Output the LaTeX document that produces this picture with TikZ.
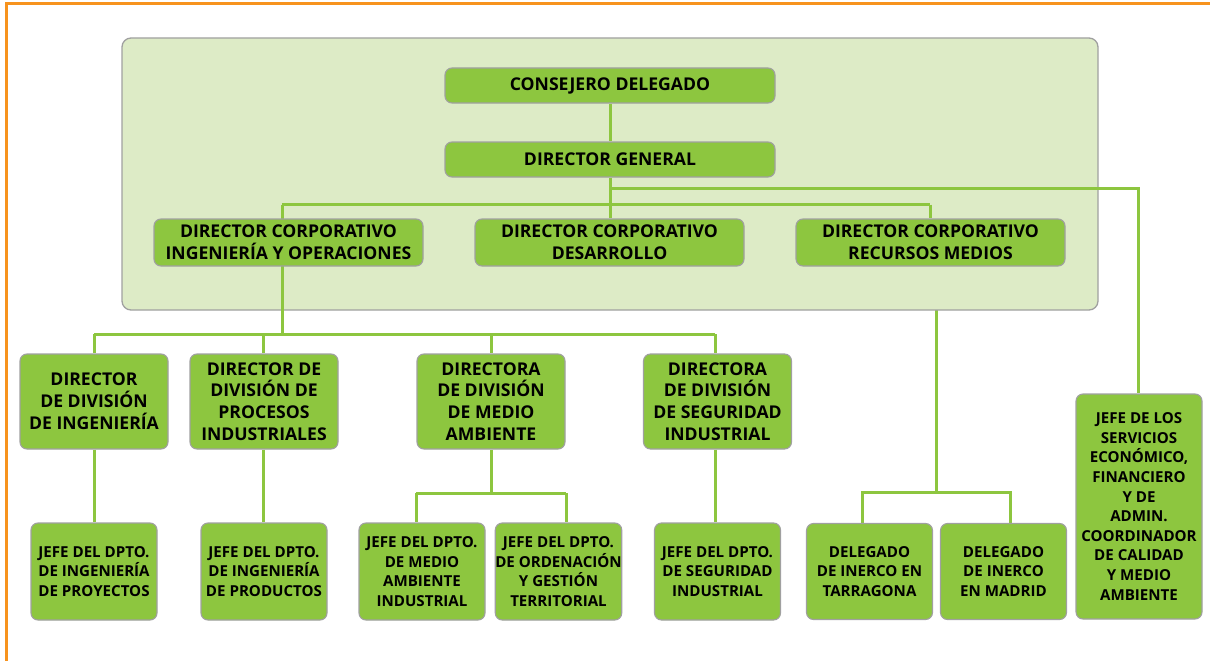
\documentclass[tikz,border=0pt]{standalone}
\usepackage{fontspec}
\setmainfont{Open Sans}
\usetikzlibrary{calc}
\definecolor{boxgreen}{HTML}{8DC63F}
\definecolor{linegreen}{HTML}{8DC63F}
\definecolor{grpfill}{HTML}{DDEBC6}
\definecolor{edgegray}{HTML}{A0A0A0}
\definecolor{frameorange}{HTML}{F7931E}
\pgfdeclarelayer{back}
\pgfdeclarelayer{mid}
\pgfsetlayers{back,mid,main}
\tikzset{
  box/.style={draw=edgegray, line width=1.1pt, fill=boxgreen, rounded corners=7pt,
    align=center, inner sep=0pt, font=\bfseries\fontsize{17.6}{21.8}\selectfont},
  small/.style={font=\bfseries\fontsize{15.1}{19.6}\selectfont},
  conn/.style={draw=linegreen, line width=3pt},
  grpbox/.style={draw=edgegray, line width=1.3pt, fill=grpfill, rounded corners=9pt},
  frame/.style={draw=frameorange, line width=3pt}
}
\begin{document}
\begin{tikzpicture}[x=1pt,y=-1pt]
\useasboundingbox (0,0) rectangle (1210,661);
% top group
\node[box, minimum width=330pt, minimum height=35pt] (cd) at (610,85.5) {CONSEJERO DELEGADO};
\node[box, minimum width=330pt, minimum height=35pt] (dg) at (610,159.5) {DIRECTOR GENERAL};
\node[box, minimum width=269pt, minimum height=47pt] (c1) at (288.5,242.5) {DIRECTOR CORPORATIVO\\INGENIERÍA Y OPERACIONES};
\node[box, minimum width=269pt, minimum height=47pt] (c2) at (609.5,242.5) {DIRECTOR CORPORATIVO\\DESARROLLO};
\node[box, minimum width=269pt, minimum height=47pt] (c3) at (930.5,242.5) {DIRECTOR CORPORATIVO\\RECURSOS MEDIOS};
% divisions
\node[box, minimum width=148pt, minimum height=95pt] (d1) at (94,401.5) {DIRECTOR\\DE DIVISIÓN\\DE INGENIERÍA};
\node[box, minimum width=148pt, minimum height=95pt] (d2) at (264,401.5) {DIRECTOR DE\\DIVISIÓN DE\\PROCESOS\\INDUSTRIALES};
\node[box, minimum width=148pt, minimum height=95pt] (d3) at (491,401.5) {DIRECTORA\\DE DIVISIÓN\\DE MEDIO\\AMBIENTE};
\node[box, minimum width=148pt, minimum height=95pt] (d4) at (717.5,401.5) {DIRECTORA\\DE DIVISIÓN\\DE SEGURIDAD\\INDUSTRIAL};
% departments
\node[box, small, minimum width=126pt, minimum height=97pt] (j1) at (94,571.5) {JEFE DEL DPTO.\\DE INGENIERÍA\\DE PROYECTOS};
\node[box, small, minimum width=126pt, minimum height=97pt] (j2) at (264,571.5) {JEFE DEL DPTO.\\DE INGENIERÍA\\DE PRODUCTOS};
\node[box, small, minimum width=126pt, minimum height=97pt] (j3a) at (422,571.5) {JEFE DEL DPTO.\\DE MEDIO\\AMBIENTE\\INDUSTRIAL};
\node[box, small, minimum width=126pt, minimum height=97pt] (j3b) at (558.5,571.5) {JEFE DEL DPTO.\\DE ORDENACIÓN\\Y GESTIÓN\\TERRITORIAL};
\node[box, small, minimum width=126pt, minimum height=97pt] (j4) at (717.5,571.5) {JEFE DEL DPTO.\\DE SEGURIDAD\\INDUSTRIAL};
\node[box, small, minimum width=126pt, minimum height=96pt] (tg) at (869.5,571.5) {DELEGADO\\DE INERCO EN\\TARRAGONA};
\node[box, small, minimum width=126pt, minimum height=96pt] (md) at (1003.5,571.5) {DELEGADO\\DE INERCO\\EN MADRID};
\node[box, small, minimum width=126pt, minimum height=225pt] (js) at (1139,506.5) {JEFE DE LOS\\SERVICIOS\\ECONÓMICO,\\FINANCIERO\\Y DE\\ADMIN.\\COORDINADOR\\DE CALIDAD\\Y MEDIO\\AMBIENTE};
% background, group and its outgoing line
\begin{pgfonlayer}{back}
\fill[white] (0,0) rectangle (1210,661);
\coordinate (fc) at (6,4);
\draw[frame] (1210,4) -- (fc) -- (6,661);
\draw[conn] ($(c3.south)+(5.5,0)$) |- (862,492.5) -- (tg.north -| 862,0);
\draw[conn] (936,492.5) -| (md.north -| 1010,0);
\node[grpbox, minimum width=976pt, minimum height=272pt] (grp) at (610,174) {};
\end{pgfonlayer}
% connectors
\begin{pgfonlayer}{mid}
\draw[conn] (cd) -- (dg);
\draw[conn] (dg.south) -- (610,204.5);
\draw[conn] (610,188) -| (js.north -| 1138,0);
\draw[conn] (282,204.5) -- (930,204.5);
\draw[conn] (282,204.5) -- (282,334);
\draw[conn] (c2.north -| 610,0) -- (610,204.5);
\draw[conn] (930,204.5) -- (c3.north -| 930,0);
\draw[conn] (94,334) -- (715,334);
\draw[conn] (94,334) -- (d1.north);
\draw[conn] (263.5,334) -- (d2.north -| 263.5,0);
\draw[conn] (491,334) -- (d3.north);
\draw[conn] (715,334) -- (d4.north -| 715,0);
\draw[conn] (d1) -- (j1);
\draw[conn] (d2.south -| 263.5,0) -- (j2.north -| 263.5,0);
\draw[conn] (d3.south) -- (491,493);
\draw[conn] (416,493) -- (566,493);
\draw[conn] (416,493) -- (j3a.north -| 416,0);
\draw[conn] (566,493) -- (j3b.north -| 566,0);
\draw[conn] (d4.south -| 715,0) -- (j4.north -| 715,0);
\end{pgfonlayer}
\end{tikzpicture}
\end{document}
